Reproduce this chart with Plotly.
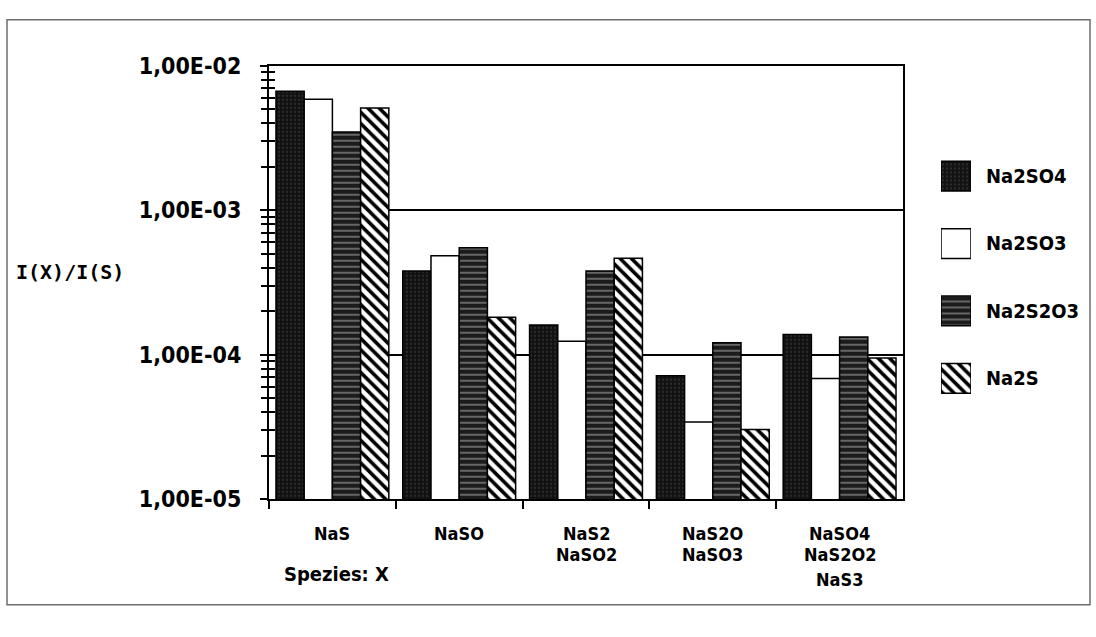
import plotly.graph_objects as go

# Species groups (x axis) and the four sulfur salts (series)
categories = ["NaS", "NaSO", "NaS2<br>NaSO2", "NaS2O<br>NaSO3", "NaSO4<br>NaS2O2<br>NaS3"]
series_names = ["Na2SO4", "Na2SO3", "Na2S2O3", "Na2S"]
legend_labels = ["Na2SO4", "Na2SO3", "Na2S2O3", "Na2S"]

na2so4 = [6.65e-3, 3.80e-4, 1.61e-4, 7.15e-5, 1.38e-4]
na2so3 = [5.86e-3, 4.85e-4, 1.24e-4, 3.43e-5, 6.86e-5]
na2s2o3 = [3.48e-3, 5.51e-4, 3.80e-4, 1.21e-4, 1.33e-4]
na2s = [5.10e-3, 1.82e-4, 4.66e-4, 3.04e-5, 9.50e-5]
values = [na2so4, na2so3, na2s2o3, na2s]

y_tick_vals = [1e-5, 1e-4, 1e-3, 1e-2]
y_tick_text = ["1,00E-05", "1,00E-04", "1,00E-03", "1,00E-02"]
y_title = "I(X)/I(S)"
x_title = "Spezies: X"

# Figure geometry (pixels)
W, H = 1096, 637
PL, PR, PT, PB = 269, 903, 55, 507


def fx(px):
    return px / W


def fy(py):
    return (H - py) / H


FONT = "DejaVu Sans Condensed, Liberation Sans Narrow, DejaVu Sans"
MONO = "DejaVu Sans Mono, Liberation Mono, monospace"

styles = [
    dict(color="#161616", pattern=dict(shape=".", bgcolor="#121212", fgcolor="#505050",
                                       size=4, solidity=0.12, fillmode="replace")),
    dict(color="white"),
    dict(color="#2a2a2a", pattern=dict(shape="-", bgcolor="#1c1c1c", fgcolor="#8c8c8c",
                                       size=6, solidity=0.22, fillmode="replace")),
    dict(color="white", pattern=dict(shape="\\", bgcolor="white", fgcolor="black",
                                     size=8, solidity=0.45, fillmode="replace")),
]

fig = go.Figure()

for name, vals, st in zip(series_names, values, styles):
    fig.add_trace(go.Bar(
        x=categories, y=vals, name=name, showlegend=False,
        marker=dict(line=dict(color="black", width=1.5), **st),
        xaxis="x", yaxis="y",
    ))

# Legend swatches drawn as bars on their own small axes
for lab, st in zip(legend_labels, styles):
    fig.add_trace(go.Bar(
        y=[lab], x=[1], orientation="h", showlegend=False, offsetgroup="lg",
        width=0.44,
        marker=dict(line=dict(color="black", width=1.5), **st),
        xaxis="x3", yaxis="y3", hoverinfo="skip",
    ))

# invisible trace so the inner-tick overlay axis is drawn
fig.add_trace(go.Scatter(x=[categories[0]], y=[1e-3], mode="markers",
                         marker=dict(opacity=0), showlegend=False,
                         xaxis="x", yaxis="y2", hoverinfo="skip"))

minor_vals = [k * 10.0 ** e for e in (-5, -4, -3) for k in range(2, 10)]

fig.update_layout(
    width=W, height=H,
    margin=dict(l=0, r=0, t=0, b=0),
    paper_bgcolor="white", plot_bgcolor="white",
    barmode="group", bargap=0.11, bargroupgap=0,
    font=dict(family=FONT, color="black", size=20, weight="bold"),
    xaxis=dict(
        domain=[fx(PL), fx(PR)], anchor="y",
        categoryorder="array", categoryarray=categories,
        tickson="boundaries", ticks="outside", ticklen=8, tickwidth=2, tickcolor="black",
        showticklabels=False,
        showline=True, linecolor="black", linewidth=2, mirror=True,
        showgrid=False,
    ),
    yaxis=dict(
        domain=[fy(PB), fy(PT)], anchor="x", type="log", range=[-5, -2],
        tickmode="array", tickvals=y_tick_vals, ticktext=y_tick_text,
        ticks="outside", ticklen=7, tickwidth=2, tickcolor="black",
        minor=dict(tickmode="array", tickvals=minor_vals, ticks="outside",
                   ticklen=6, tickwidth=1.5, tickcolor="black", showgrid=False),
        showline=True, linecolor="black", linewidth=2, mirror=True,
        showgrid=True, gridcolor="black", gridwidth=2,
        ticklabelstandoff=14,
        tickfont=dict(family=FONT, size=23, weight="bold"),
    ),
    yaxis2=dict(
        overlaying="y", anchor="x", type="log", range=[-5, -2],
        tickmode="array", tickvals=y_tick_vals, showticklabels=False,
        ticks="inside", ticklen=7, tickwidth=2, tickcolor="black",
        minor=dict(tickmode="array", tickvals=minor_vals, ticks="inside",
                   ticklen=6, tickwidth=1.5, tickcolor="black", showgrid=False),
        showgrid=False, showline=False, zeroline=False,
    ),
    xaxis3=dict(domain=[fx(941), fx(971)], anchor="y3", range=[0, 1],
                visible=False, fixedrange=True),
    yaxis3=dict(domain=[fy(416), fy(135)], anchor="x3", type="category",
                categoryorder="array", categoryarray=legend_labels,
                autorange="reversed", visible=False, fixedrange=True),
)

# Category labels, one annotation per text line under each group
line_y = [543, 565, 591]
for cat in categories:
    for i, part in enumerate(cat.split("<br>")):
        fig.add_annotation(text=part, x=cat, y=fy(line_y[i]), xref="x", yref="paper",
                           xanchor="center", yanchor="middle", showarrow=False,
                           font=dict(family=FONT, size=18, weight="bold"))

legend_y = [170, 240, 311, 381]
for lab, py in zip(legend_labels, legend_y):
    fig.add_annotation(text=lab, x=fx(984), y=fy(py), xref="paper", yref="paper",
                       xanchor="left", yanchor="middle", showarrow=False,
                       font=dict(family=FONT, size=20, weight="bold"))

fig.add_annotation(text=y_title, x=fx(14), y=fy(270), xref="paper", yref="paper",
                   xanchor="left", yanchor="middle", showarrow=False,
                   font=dict(family=MONO, size=20, weight="bold"))
fig.add_annotation(text=x_title, x=fx(282), y=fy(585), xref="paper", yref="paper",
                   xanchor="left", yanchor="middle", showarrow=False,
                   font=dict(family=FONT, size=20, weight="bold"))

# outer frame
fig.add_shape(type="rect", xref="paper", yref="paper",
              x0=fx(7), x1=fx(1090), y0=fy(617), y1=fy(7),
              line=dict(color="#6e6e6e", width=1.5), layer="below")

fig.write_html("out.html")
